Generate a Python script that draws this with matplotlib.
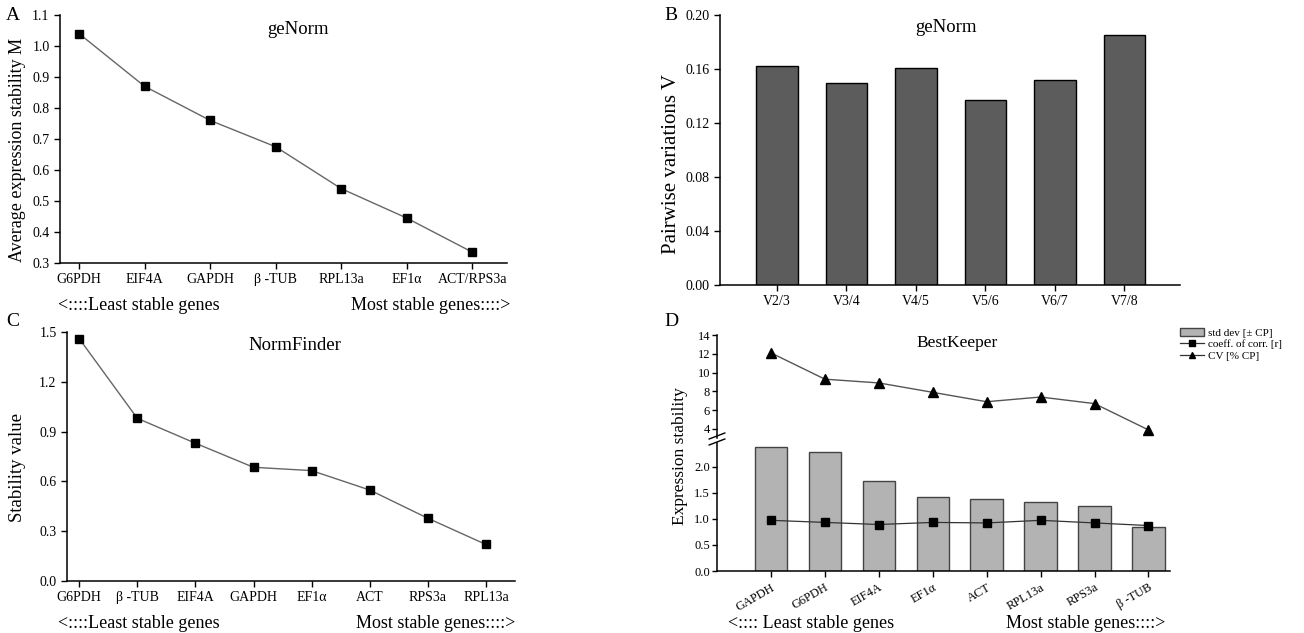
import numpy as np
import matplotlib
matplotlib.use("Agg")
from matplotlib import pyplot as plt
from matplotlib.patches import Patch
from matplotlib.lines import Line2D

plt.rcParams['font.family'] = ['Liberation Serif', 'DejaVu Serif']

# A: geNorm average expression stability M
genes_a = ['G6PDH', 'EIF4A', 'GAPDH', 'β -TUB', 'RPL13a', 'EF1α', 'ACT/RPS3a']
m_values = [1.04, 0.87, 0.76, 0.675, 0.54, 0.445, 0.335]

# B: geNorm pairwise variation V
pairs_b = ['V2/3', 'V3/4', 'V4/5', 'V5/6', 'V6/7', 'V7/8']
v_values = [0.162, 0.150, 0.161, 0.137, 0.152, 0.185]

# C: NormFinder stability value
genes_c = ['G6PDH', 'β -TUB', 'EIF4A', 'GAPDH', 'EF1α', 'ACT', 'RPS3a', 'RPL13a']
nf_values = [1.46, 0.98, 0.83, 0.685, 0.665, 0.548, 0.378, 0.22]

# D: BestKeeper
genes_d = ['GAPDH', 'G6PDH', 'EIF4A', 'EF1α', 'ACT', 'RPL13a', 'RPS3a', 'β -TUB']
std_dev = [2.37, 2.27, 1.73, 1.42, 1.38, 1.33, 1.24, 0.85]
coeff_r = [0.97, 0.93, 0.89, 0.93, 0.92, 0.97, 0.92, 0.87]
cv_pct = [12.1, 9.3, 8.9, 7.9, 6.9, 7.4, 6.7, 3.9]

W, H = 1304, 633
fig = plt.figure(figsize=(W / 100, H / 100), dpi=100)


def box(l, t, r, b):
    # pixel box -> figure fraction
    return [l / W, 1 - b / H, (r - l) / W, (b - t) / H]


def ftext(px, py, s, **kw):
    # text placed in pixel coords (from top-left)
    return fig.text(px / W, 1 - py / H, s, **kw)


def style(ax):
    ax.spines['top'].set_visible(False)
    ax.spines['right'].set_visible(False)
    ax.tick_params(direction='out', length=4, width=1, labelsize=10)
    for s in ax.spines.values():
        s.set_linewidth(1.1)


line_kw = dict(color='#666666', lw=1.0, marker='s', ms=6,
               mfc='black', mec='black')

# ---- A ----
axA = fig.add_axes(box(60, 15, 507, 263))
xa = np.arange(len(genes_a))
axA.plot(xa, m_values, **line_kw)
axA.set_xlim(-0.29, 6.53)
axA.set_ylim(0.3, 1.1)
axA.set_yticks(np.arange(0.3, 1.11, 0.1))
axA.set_xticks(xa)
axA.set_xticklabels(genes_a)
style(axA)
ftext(18, 150, 'Average expression stability M', rotation=90,
      ha='center', va='center', fontsize=13)
ftext(298, 29, 'geNorm', ha='center', va='center', fontsize=13.5)

# ---- B ----
axB = fig.add_axes(box(720, 15, 1180, 285))
xb = np.arange(len(pairs_b))
axB.bar(xb, v_values, width=0.6, color='#5c5c5c', edgecolor='black', lw=1)
axB.set_xlim(-0.82, 5.8)
axB.set_ylim(0, 0.2)
axB.set_yticks(np.arange(0, 0.201, 0.04))
axB.yaxis.set_major_formatter(matplotlib.ticker.FormatStrFormatter('%.2f'))
axB.set_xticks(xb)
axB.set_xticklabels(pairs_b)
style(axB)
ftext(672, 164, 'Pairwise variations V', rotation=90,
      ha='center', va='center', fontsize=15)
ftext(946, 28, 'geNorm', ha='center', va='center', fontsize=13.5)

# ---- C ----
axC = fig.add_axes(box(67, 332, 515, 581))
xc = np.arange(len(genes_c))
axC.plot(xc, nf_values, **line_kw)
axC.set_xlim(-0.21, 7.5)
axC.set_ylim(0, 1.5)
axC.set_yticks(np.arange(0, 1.51, 0.3))
axC.set_xticks(xc)
axC.set_xticklabels(genes_c)
style(axC)
ftext(18, 468, 'Stability value', rotation=90,
      ha='center', va='center', fontsize=13.5)
ftext(295, 346, 'NormFinder', ha='center', va='center', fontsize=13.5)

# ---- D (broken axis) ----
axDt = fig.add_axes(box(717, 335, 1170, 438))
axDb = fig.add_axes(box(717, 443, 1170, 571))
xd = np.arange(len(genes_d))
axDb.bar(xd, std_dev, width=0.6, color='#b3b3b3', edgecolor='#444444', lw=1)
axDb.plot(xd, coeff_r, color='#333333', lw=0.9, marker='s', ms=6,
          mfc='black', mec='black')
axDt.plot(xd, cv_pct, color='#555555', lw=1.0, marker='^', ms=6.5,
          mfc='black', mec='black')
for ax in (axDt, axDb):
    ax.set_xlim(-1.0, 7.4)
    style(ax)
    ax.tick_params(labelsize=9)
    ax.tick_params(axis='y', pad=1.5, length=3.5)
axDt.set_ylim(3.04, 14)
axDt.set_yticks(np.arange(4, 15, 2))
axDt.spines['bottom'].set_visible(False)
axDt.set_xticks([])
axDb.set_ylim(0, 2.45)
axDb.set_yticks(np.arange(0, 2.01, 0.5))
axDb.yaxis.set_major_formatter(matplotlib.ticker.FormatStrFormatter('%.1f'))
axDb.set_xticks(xd)
axDb.set_xticklabels(genes_d, rotation=30, ha='right', rotation_mode='anchor')
ftext(680, 456, 'Expression stability', rotation=90,
      ha='center', va='center', fontsize=12.5)
ftext(957, 343, 'BestKeeper', ha='center', va='center', fontsize=12.5)

# break marks on the left spine
d = 0.012
for yb in (436, 442):
    fig.add_artist(Line2D([717 / W - d / 2, 717 / W + d / 2],
                          [1 - (yb + 3) / H, 1 - (yb - 3) / H],
                          color='black', lw=1))

handles = [Patch(facecolor='#b3b3b3', edgecolor='#444444', label='std dev [± CP]'),
           Line2D([], [], color='#333333', lw=0.9, marker='s', ms=4,
                  mfc='black', mec='black', label='coeff. of corr. [r]'),
           Line2D([], [], color='#333333', lw=0.9, marker='^', ms=4.5,
                  mfc='black', mec='black', label='CV [% CP]')]
fig.legend(handles=handles, loc='upper left',
           bbox_to_anchor=(1180 / W, 1 - 328 / H), frameon=False,
           fontsize=8, handlelength=2.2, handletextpad=0.3,
           labelspacing=0.15, borderaxespad=0, borderpad=0)

# panel letters and stability arrows
for lab, px, py in [('A', 6, 16), ('B', 664, 16), ('C', 6, 322), ('D', 664, 322)]:
    ftext(px, py, lab, fontsize=14, ha='left', va='center')

for lx, ly, rx in [(58, 305, 510), (58, 623, 515), (728, 623, 1165)]:
    sep = '<:::: ' if lx > 600 else '<::::'
    ftext(lx, ly, sep + 'Least stable genes', fontsize=13, ha='left', va='center')
    ftext(rx, ly, 'Most stable genes::::>', fontsize=13, ha='right', va='center')

fig.savefig('out.png', dpi=100)
